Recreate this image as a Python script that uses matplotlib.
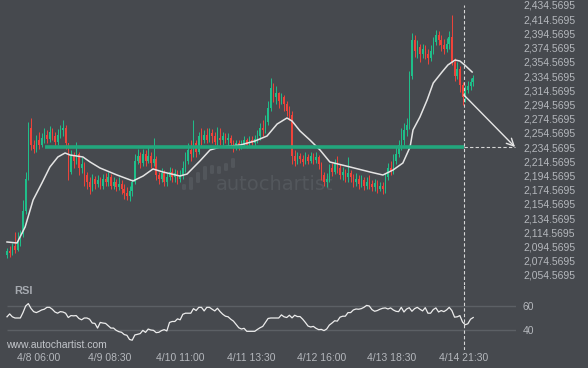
import matplotlib
matplotlib.use("Agg")
import matplotlib.pyplot as plt
from matplotlib.patches import FancyBboxPatch

plt.rcParams['font.family'] = ['Liberation Sans', 'DejaVu Sans']

# hourly candles, index 0 = first candle on the chart
first_open = 2083
closes = [2088, 2085, 2095, 2090, 2100, 2112, 2145, 2190, 2262, 2238,
          2232, 2245, 2238, 2248, 2252, 2246, 2256, 2250, 2242, 2252,
          2258, 2262, 2240, 2200, 2222, 2215, 2225, 2205, 2210, 2195,
          2185, 2178, 2190, 2182, 2188, 2180, 2190, 2185, 2192, 2180,
          2186, 2178, 2183, 2175, 2170, 2165, 2172, 2185, 2215, 2222,
          2212, 2225, 2215, 2222, 2212, 2218, 2195, 2190, 2198, 2185,
          2192, 2200, 2192, 2198, 2190, 2195, 2205, 2215, 2230, 2225,
          2240, 2228, 2250, 2245, 2252, 2245, 2255, 2250, 2242, 2248,
          2244, 2250, 2245, 2248, 2240, 2236, 2240, 2235, 2238, 2244,
          2238, 2245, 2240, 2246, 2250, 2262, 2258, 2270, 2290, 2318,
          2305, 2310, 2300, 2305, 2295, 2285, 2280, 2222, 2215, 2222,
          2218, 2214, 2220, 2215, 2222, 2216, 2220, 2210, 2195, 2185,
          2190, 2205, 2200, 2210, 2205, 2195, 2200, 2192, 2198, 2192,
          2185, 2190, 2182, 2188, 2180, 2186, 2182, 2178, 2184, 2176,
          2180, 2175, 2192, 2205, 2200, 2215, 2225, 2238, 2245, 2258,
          2265, 2335, 2385, 2370, 2375, 2365, 2372, 2366, 2360, 2370,
          2382, 2392, 2385, 2378, 2372, 2380, 2390, 2355, 2335, 2345,
          2322, 2305, 2315, 2320, 2326, 2332]
highs = [2092, 2095, 2100, 2115, 2115, 2118, 2160, 2200, 2270, 2275,
         2245, 2252, 2256, 2254, 2262, 2258, 2264, 2262, 2256, 2260,
         2265, 2272, 2265, 2240, 2230, 2228, 2242, 2228, 2220, 2214,
         2200, 2192, 2196, 2194, 2195, 2192, 2197, 2198, 2200, 2196,
         2193, 2190, 2192, 2188, 2182, 2178, 2180, 2190, 2225, 2232,
         2228, 2232, 2230, 2234, 2228, 2248, 2222, 2200, 2205, 2202,
         2198, 2206, 2205, 2204, 2202, 2202, 2215, 2228, 2240, 2245,
         2272, 2245, 2256, 2262, 2258, 2262, 2262, 2260, 2256, 2263,
         2262, 2256, 2255, 2254, 2252, 2245, 2244, 2244, 2245, 2250,
         2248, 2250, 2250, 2252, 2258, 2268, 2272, 2280, 2300, 2332,
         2325, 2320, 2312, 2310, 2308, 2300, 2292, 2285, 2230, 2228,
         2226, 2224, 2228, 2225, 2228, 2226, 2228, 2224, 2214, 2200,
         2198, 2210, 2212, 2218, 2222, 2210, 2206, 2204, 2220, 2202,
         2196, 2198, 2195, 2195, 2192, 2192, 2195, 2188, 2190, 2188,
         2186, 2185, 2198, 2212, 2215, 2225, 2235, 2245, 2262, 2268,
         2275, 2342, 2395, 2392, 2385, 2380, 2380, 2378, 2372, 2378,
         2390, 2400, 2398, 2392, 2386, 2388, 2398, 2420, 2360, 2355,
         2348, 2326, 2322, 2328, 2332, 2336]
lows = [2078, 2080, 2082, 2086, 2088, 2095, 2108, 2140, 2188, 2230,
        2226, 2228, 2232, 2234, 2240, 2240, 2242, 2244, 2236, 2238,
        2248, 2250, 2232, 2188, 2196, 2205, 2210, 2195, 2198, 2180,
        2176, 2168, 2172, 2176, 2178, 2175, 2176, 2180, 2180, 2176,
        2175, 2172, 2174, 2168, 2162, 2160, 2158, 2165, 2182, 2210,
        2205, 2208, 2208, 2212, 2205, 2208, 2188, 2182, 2185, 2180,
        2180, 2188, 2185, 2185, 2182, 2185, 2190, 2200, 2210, 2215,
        2220, 2220, 2225, 2238, 2240, 2240, 2242, 2240, 2238, 2236,
        2238, 2238, 2240, 2238, 2234, 2228, 2230, 2230, 2232, 2234,
        2233, 2235, 2234, 2236, 2240, 2245, 2250, 2255, 2265, 2286,
        2298, 2295, 2290, 2295, 2285, 2278, 2272, 2210, 2208, 2210,
        2212, 2208, 2210, 2210, 2212, 2210, 2212, 2204, 2188, 2180,
        2178, 2186, 2194, 2196, 2198, 2190, 2188, 2185, 2186, 2185,
        2178, 2180, 2176, 2178, 2174, 2176, 2176, 2172, 2172, 2170,
        2172, 2168, 2170, 2188, 2195, 2196, 2210, 2220, 2230, 2238,
        2250, 2260, 2330, 2362, 2360, 2355, 2360, 2358, 2352, 2356,
        2365, 2378, 2378, 2370, 2366, 2368, 2372, 2350, 2328, 2330,
        2312, 2294, 2298, 2310, 2315, 2320]

# moving average (hour index, price)
ma_hour = [0, 3.75, 6.8, 9.8, 13.1, 16.1, 19.1, 21.8, 23.6, 28.5, 31.2, 34.9,
           41.3, 47.3, 51.1, 54.8, 58.6, 64.9, 67.6, 72.4, 76.2, 80, 87.5,
           93.1, 97.6, 101.4, 105.1, 107, 110, 113.7, 117.5, 121.2, 128.8,
           136.3, 141.1, 144.9, 148.6, 151.3, 152.4, 155, 157.7, 160, 163.3,
           165.5, 168.2, 170, 171.8, 174.6]
ma_price = [2100.9, 2099.5, 2122.0, 2160.0, 2183.9, 2206.5, 2220.6, 2226.2,
            2223.4, 2220.6, 2213.5, 2205.1, 2195.2, 2186.8, 2193.8, 2203.7,
            2199.4, 2193.8, 2196.6, 2214.9, 2230.4, 2234.6, 2237.4, 2243.1,
            2250.1, 2267.0, 2275.5, 2271.2, 2257.2, 2244.5, 2230.4, 2213.5,
            2206.5, 2199.4, 2195.2, 2202.2, 2212.1, 2234.6, 2258.6, 2276.9,
            2300.8, 2324.7, 2340.2, 2350.1, 2357.1, 2355.7, 2350.1, 2340.2]

rsi = [51, 53.4, 51, 50, 50, 50, 54.5, 60, 62, 58,
       55.3, 54.5, 55.5, 56.7, 57.3, 58.9, 58.9, 57.3, 55, 54,
       55.3, 55, 54, 50.4, 52, 51.8, 52, 49.6, 48.5, 50,
       50, 49, 45.8, 45.5, 41.6, 46.3, 45.8, 45.5, 43.6, 41.6,
       41.6, 39.7, 38.6, 38.1, 36.2, 35.6, 32.1, 31.5, 35.9, 36.4,
       37, 39.7, 38, 40.8, 40, 39.7, 37.8, 38.1, 39.5, 40.3,
       39.2, 46.3, 47.1, 47.1, 49.3, 48.5, 53.1, 54, 54, 54,
       57.8, 56.2, 58.9, 58.9, 55.9, 58.9, 58.9, 57.3, 55.9, 58.1,
       55.3, 53.1, 51.5, 51, 49, 47.4, 44.7, 41.9, 40.8, 41.4,
       38.9, 38.9, 38.9, 38.9, 40.5, 41.9, 43, 46.3, 49.6, 50,
       50, 50, 50, 52.6, 51, 50.4, 52.3, 50.1, 52.3, 51.2,
       51.2, 49, 46.3, 43.3, 42.5, 43, 41.4, 40.3, 40.5, 39.5,
       40.8, 44.1, 45.8, 47.7, 47.4, 50.7, 51.5, 51.5, 54.5, 54.5,
       56.7, 57.5, 57.3, 57.8, 58.9, 60.5, 60, 57, 55.6, 56.2,
       57.3, 58.1, 58.4, 57.5, 58.4, 56.7, 55.6, 55.3, 58.9, 55,
       57.5, 58.6, 55.6, 57.8, 58.9, 57.3, 55.9, 58.6, 54, 54,
       57, 58.4, 55, 56.2, 55.3, 56.7, 58.9, 56.2, 50.7, 51,
       52, 46.6, 44.4, 45.2, 49, 50.4]

tick_hours = [12, 38.5, 65, 91.5, 118, 144.5, 171.5]
tick_labels = ['4/8 06:00', '4/9 08:30', '4/10 11:00', '4/11 13:30',
               '4/12 16:00', '4/13 18:30', '4/14 21:30']
price_ticks = [2054.5695 + 20 * k for k in range(20)]

level = 2234.5695
level_start = 14.3
pattern_end = 171.5
arrow_start = 2307.9
arrow_end_hour = 190.7

bg = '#46494e'
txt = '#b4b7bc'
green = '#1fbf8a'
red = '#f0433a'

W, H = 588, 368
fig = plt.figure(figsize=(W / 100, H / 100), dpi=100, facecolor=bg)

def fx(x):
    return x / W

def fy(y):
    return 1 - y / H

# watermark
for bx, top, bot in [(182, 184, 190), (189, 177, 190), (196, 172, 183), (203, 166, 180),
                     (210, 165, 174), (217, 166, 174), (224, 163, 171), (231, 158, 168)]:
    fig.add_artist(FancyBboxPatch((fx(bx), fy(bot)), fx(4), (bot - top) / H,
                                  boxstyle='round,pad=0,rounding_size=0.003',
                                  transform=fig.transFigure, color='#52565b',
                                  lw=0, zorder=-5))
fig.text(fx(216), fy(184), 'autochartist', color='#53575c', fontsize=14,
         family='DejaVu Sans', va='center', ha='left', zorder=-5)

xmin, xmax = -7 / 2.664, 509 / 2.664

ax = fig.add_axes([0, fy(285), fx(516), 285 / H])
ax.set_facecolor('none')
ax.set_xlim(xmin, xmax)
ax.set_ylim(2434.5695 - 280 * 1.408, 2434.5695 + 5 * 1.408)
for s in ax.spines.values():
    s.set_visible(False)
ax.set_xticks([])
ax.yaxis.tick_right()
ax.set_yticks(price_ticks)
ax.set_yticklabels([f'{v:,.4f}' for v in price_ticks])
ax.tick_params(axis='y', length=0, pad=5, labelsize=7.5, labelcolor=txt)

opens = [first_open] + closes[:-1]
hours = list(range(len(closes)))
cols = [green if c >= o else red for o, c in zip(opens, closes)]
ax.vlines(hours, lows, highs, colors=cols, lw=0.7, zorder=2)
bottoms = [min(o, c) for o, c in zip(opens, closes)]
heights = [max(abs(c - o), 0.8) for o, c in zip(opens, closes)]
ax.bar(hours, heights, bottom=bottoms, width=0.55, color=cols, lw=0, zorder=2)

ax.plot(ma_hour, ma_price, color='#e4e4e4', lw=1.1, zorder=3)

ax.hlines(level, level_start, pattern_end, color='#22a67c', lw=2.6, zorder=4)
ax.hlines(level, pattern_end, arrow_end_hour, color='#d6d6d6', lw=0.8,
          linestyles=(0, (3, 2)), zorder=4)
ax.vlines(pattern_end, ax.get_ylim()[0], 2434.5695, color='#d6d6d6', lw=0.8,
          linestyles=(0, (3, 2)), zorder=4)
ax.annotate('', xy=(arrow_end_hour, level), xytext=(pattern_end, arrow_start),
            arrowprops=dict(arrowstyle='->', color='#e6e6e6', lw=1.0,
                            mutation_scale=13, shrinkA=0, shrinkB=0), zorder=5)

# RSI panel
rx = fig.add_axes([0, fy(350), fx(516), 65 / H])
rx.set_facecolor('none')
rx.set_xlim(xmin, xmax)
rx.set_ylim(40 - 20 / 1.2, 60 + 21 / 1.2)
for s in rx.spines.values():
    s.set_visible(False)
rx.hlines([40, 60], 0, xmax, color='#5c6065', lw=1, zorder=1)
rx.plot(hours, rsi, color='#ececec', lw=0.9, zorder=3)
rx.vlines(pattern_end, 40 - 20 / 1.2, 60 + 21 / 1.2, color='#d6d6d6', lw=0.8,
          linestyles=(0, (3, 2)), zorder=4)
rx.yaxis.tick_right()
rx.set_yticks([40, 60])
rx.set_xticks(tick_hours)
rx.set_xticklabels(tick_labels)
rx.tick_params(axis='y', length=0, pad=5, labelsize=7.5, labelcolor=txt)
rx.tick_params(axis='x', length=0, pad=2, labelsize=7.5, labelcolor=txt)

fig.text(fx(14), fy(291), 'RSI', color='#a6aab0', fontsize=8, fontweight='bold',
         va='center', ha='left')
fig.text(fx(6), fy(345), 'www.autochartist.com', color='#c2c5ca', fontsize=7.5,
         va='center', ha='left')

fig.savefig('out.png', dpi=100, facecolor=bg)
